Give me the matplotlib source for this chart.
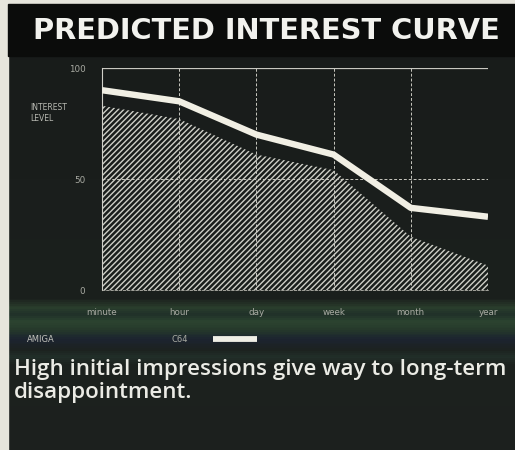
import numpy as np
import matplotlib
matplotlib.use("Agg")
import matplotlib.pyplot as plt
from matplotlib.patches import Rectangle
from matplotlib.lines import Line2D
from matplotlib.colors import LinearSegmentedColormap

categories = ["minute", "hour", "day", "week", "month", "year"]
c64 = [90, 85, 70, 61, 37, 33]
amiga = [83, 77, 61, 54, 24, 11]
yticks = [0, 50, 100]

W, H = 515, 450
plt.rcParams["hatch.linewidth"] = 1.0

fig = plt.figure(figsize=(W / 100, H / 100), dpi=100)
fig.patch.set_facecolor("#1a1e1c")

# dark backdrop with the greenish band under the axis
bg = fig.add_axes([0, 0, 1, 1], zorder=-10)
stops = [(0.0, "#1c201e"), (0.19, "#1d221f"), (0.205, "#22302a"),
         (0.22, "#1c221f"), (0.245, "#1c2430"), (0.265, "#26392b"),
         (0.285, "#2c4430"), (0.30, "#203029"), (0.315, "#2a3f2d"),
         (0.335, "#1b201d"), (0.6, "#1a1e1c"), (1.0, "#181b1a")]
cmap = LinearSegmentedColormap.from_list("bg", stops)
bg.imshow(np.linspace(0, 1, 450).reshape(-1, 1), aspect="auto", cmap=cmap,
          extent=[0, 1, 0, 1], origin="lower")
bg.set_xlim(0, 1)
bg.set_ylim(0, 1)
bg.axis("off")

# paper edges and title bar
fig.add_artist(Rectangle((0, 0), 8 / W, 1, transform=fig.transFigure,
                         color="#e6e5dc", zorder=-5))
fig.add_artist(Rectangle((0, 1 - 4 / H), 1, 4 / H, transform=fig.transFigure,
                         color="#e6e5dc", zorder=-5))
fig.add_artist(Rectangle((8 / W, 1 - 56 / H), 1, 52 / H, transform=fig.transFigure,
                         color="#0b0c0b", zorder=-5))
fig.text(33 / W, 1 - 31 / H, "PREDICTED INTEREST CURVE", color="#f2f2ee",
         fontsize=20.8, fontweight="bold", family="DejaVu Sans",
         va="center", ha="left")

ax = fig.add_axes([102 / W, 1 - 290 / H, 386 / W, 222 / H])
ax.set_facecolor("none")
x = np.arange(len(categories))

ax.fill_between(x, 0, amiga, facecolor="none", edgecolor="#cfd0c8",
                hatch="//////", linewidth=0, zorder=1)
ax.plot(x, c64, color="#f1efe4", linewidth=4.6, solid_joinstyle="round",
        solid_capstyle="butt", zorder=3)

grid_kw = dict(color="#c8c8c0", linewidth=0.7, linestyle=(0, (3, 2)), zorder=2)
for xi in x[1:]:
    ax.axvline(xi, **grid_kw)
ax.axhline(50, **grid_kw)
ax.axhline(100, color="#c8c8c0", linewidth=0.9, zorder=2)

for side in ["top", "right"]:
    ax.spines[side].set_visible(False)
ax.spines["left"].set_color("#d0d0c8")
ax.spines["left"].set_linewidth(0.8)
ax.spines["bottom"].set_color("#b8b8b0")
ax.spines["bottom"].set_linewidth(0.6)
ax.spines["bottom"].set_linestyle((0, (3, 2)))

ax.set_xlim(0, 5)
ax.set_ylim(0, 100)
ax.set_xticks(x)
ax.set_xticklabels(categories)
ax.set_yticks(yticks)
ax.set_yticklabels([str(v) for v in yticks])
ax.tick_params(length=0, colors="#a8aaa2", labelsize=6.3)
ax.tick_params(axis="x", pad=13)
ax.tick_params(axis="y", pad=12)

fig.text(30 / W, 1 - 113 / H, "INTEREST\nLEVEL", color="#b8b9b2", fontsize=5.5,
         va="center", ha="left", linespacing=1.4)

# legend row
fig.text(27 / W, 1 - 339 / H, "AMIGA", color="#c2c3bc", fontsize=6, va="center")
fig.text(172 / W, 1 - 339 / H, "C64", color="#a8aaa2", fontsize=6, va="center")
fig.add_artist(Line2D([213 / W, 257 / W], [1 - 339 / H, 1 - 339 / H],
                      transform=fig.transFigure, color="#efeee6", linewidth=4.2,
                      solid_capstyle="butt"))

fig.text(14 / W, 1 - 381 / H, "High initial impressions give way to long-term\ndisappointment.",
         color="#ebebe5", fontsize=16.1, fontweight="semibold", family="Open Sans",
         va="center", ha="left", linespacing=1.08)

fig.savefig("out.png", dpi=100, facecolor=fig.get_facecolor())
